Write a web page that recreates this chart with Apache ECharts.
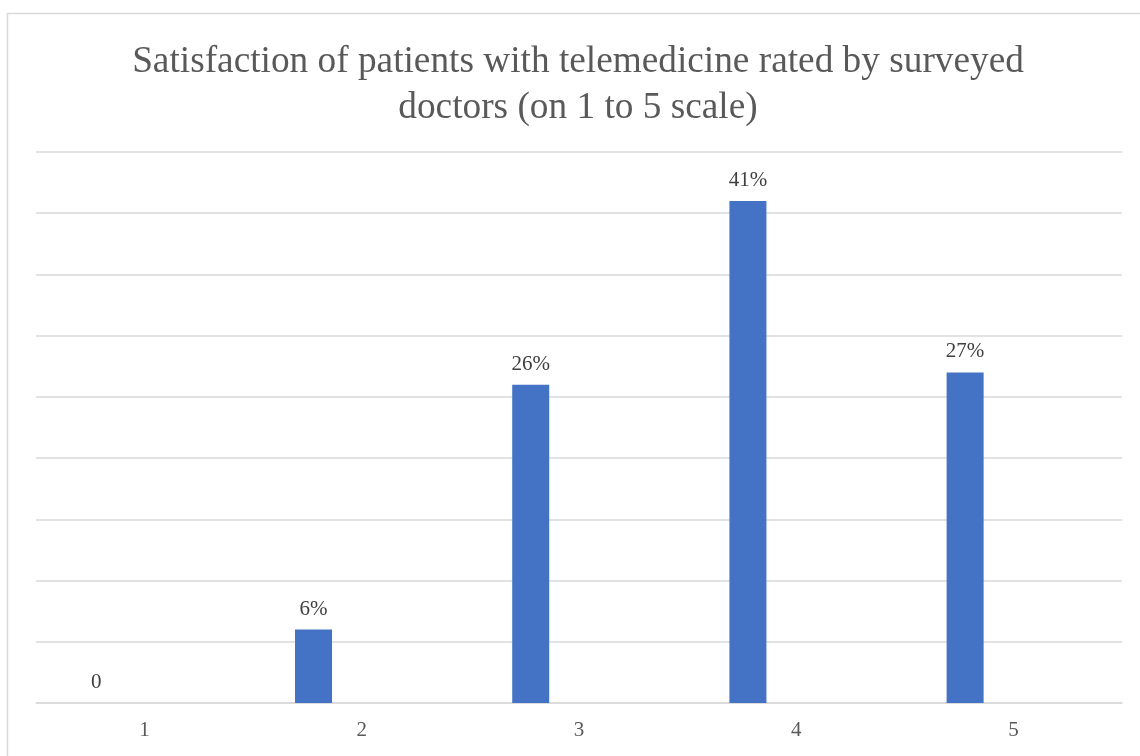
<!DOCTYPE html>
<html>
<head>
<meta charset="utf-8">
<script src="https://cdn.jsdelivr.net/npm/echarts@6/dist/echarts.min.js"></script>
<style>
  html, body { margin: 0; padding: 0; background: #ffffff; }
  #chart { width: 1140px; height: 756px; }
</style>
</head>
<body>
<div id="chart"></div>
<script>
// Rating scale and share of doctors (percent) for each rating
const ratings = ['1', '2', '3', '4', '5'];
const shares = [0, 6, 26, 41, 27];
const emptySeries = [null, null, null, null, null];
const axisMax = 45;
const axisStep = 5;

const chart = echarts.init(document.getElementById('chart'));
const serif = '"Liberation Serif", "Times New Roman", serif';

chart.setOption({
  animation: false,
  backgroundColor: '#ffffff',
  title: {
    text: 'Satisfaction of patients with telemedicine rated by surveyed\ndoctors (on 1 to 5 scale)',
    left: 573,
    textAlign: 'center',
    top: 34,
    textStyle: {
      fontFamily: serif,
      fontWeight: 'normal',
      fontSize: 37.3,
      lineHeight: 46,
      color: '#595959'
    }
  },
  graphic: [{
    type: 'rect',
    shape: { x: 7.5, y: 13.5, width: 1200, height: 800 },
    style: { fill: 'none', stroke: '#D9D9D9', lineWidth: 1.5 },
    silent: true
  }],
  grid: { left: 36, right: 18, top: 152, bottom: 53 },
  xAxis: {
    type: 'category',
    data: ratings,
    axisLine: { lineStyle: { color: '#D9D9D9', width: 1.5 } },
    axisTick: { show: false },
    axisLabel: {
      fontFamily: serif,
      fontSize: 21,
      color: '#595959',
      margin: 17
    }
  },
  yAxis: {
    type: 'value',
    min: 0,
    max: axisMax,
    interval: axisStep,
    axisLine: { show: false },
    axisTick: { show: false },
    axisLabel: { show: false },
    splitLine: { lineStyle: { color: '#D9D9D9', width: 1.5 } }
  },
  series: [
    {
      type: 'bar',
      data: shares,
      barWidth: 37,
      barGap: '161%',
      itemStyle: { color: '#4472C4' },
      label: {
        show: true,
        position: 'top',
        distance: 10,
        fontFamily: serif,
        fontSize: 21,
        color: '#404040',
        formatter: p => (p.value === 0 ? '0' : p.value + '%')
      }
    },
    {
      type: 'bar',
      data: emptySeries,
      barWidth: 37
    }
  ]
});
</script>
</body>
</html>
